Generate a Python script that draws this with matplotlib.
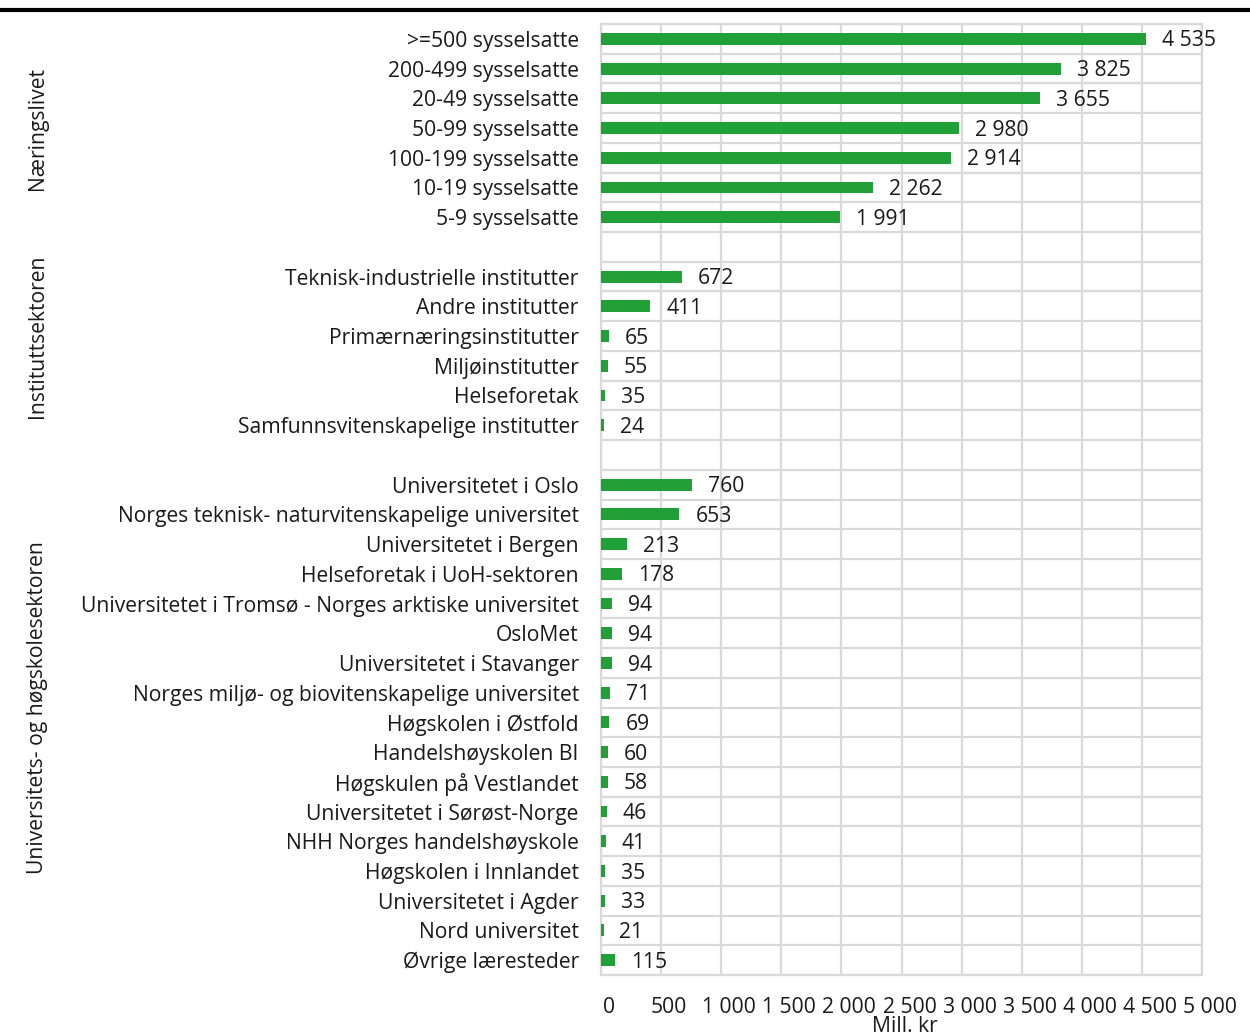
import numpy as np
import matplotlib.pyplot as plt
import matplotlib.transforms as mtransforms
from matplotlib.ticker import FuncFormatter, MultipleLocator

plt.rcParams['font.family'] = ['Open Sans', 'DejaVu Sans']

naering = ['>=500 sysselsatte', '200-499 sysselsatte', '20-49 sysselsatte',
           '50-99 sysselsatte', '100-199 sysselsatte', '10-19 sysselsatte',
           '5-9 sysselsatte']
naering_val = [4535, 3825, 3655, 2980, 2914, 2262, 1991]

institutt = ['Teknisk-industrielle institutter', 'Andre institutter',
             'Primærnæringsinstitutter', 'Miljøinstitutter', 'Helseforetak',
             'Samfunnsvitenskapelige institutter']
institutt_val = [672, 411, 65, 55, 35, 24]

uoh = ['Universitetet i Oslo', 'Norges teknisk- naturvitenskapelige universitet',
       'Universitetet i Bergen', 'Helseforetak i UoH-sektoren',
       'Universitetet i Tromsø - Norges arktiske universitet', 'OsloMet',
       'Universitetet i Stavanger', 'Norges miljø- og biovitenskapelige universitet',
       'Høgskolen i Østfold', 'Handelshøyskolen BI', 'Høgskulen på Vestlandet',
       'Universitetet i Sørøst-Norge', 'NHH Norges handelshøyskole',
       'Høgskolen i Innlandet', 'Universitetet i Agder', 'Nord universitet',
       'Øvrige læresteder']
uoh_val = [760, 653, 213, 178, 94, 94, 94, 71, 69, 60, 58, 46, 41, 35, 33, 21, 115]

groups = ['Næringslivet', 'Instituttsektoren', 'Universitets- og høgskolesektoren']
xticks = np.arange(0, 5001, 500)

def fmt(v):
    return f'{int(v):,}'.replace(',', ' ')

labels = naering + [''] + institutt + [''] + uoh
values = naering_val + [np.nan] + institutt_val + [np.nan] + uoh_val
ypos = np.arange(len(labels))

FS = 15.2
TXT = '#1a1a1a'

fig = plt.figure(figsize=(12.5, 10.36), dpi=100)
ax = fig.add_axes([601/1250, 1-975/1036, 601/1250, 951/1036])

green = '#21a038'
ax.barh(ypos, np.nan_to_num(values), height=0.4, color=green, zorder=3)
for y, v in zip(ypos, values):
    if not np.isnan(v):
        ax.annotate(fmt(v), (v, y), xytext=(11.5, -1.5), textcoords='offset points',
                    ha='left', va='center', fontsize=FS, color=TXT)

ax.set_xlim(0, 5000)
ax.set_ylim(len(labels) - 0.5, -0.5)
ax.set_xticks(xticks)
ax.xaxis.set_major_formatter(FuncFormatter(lambda v, p: fmt(v)))
ax.set_yticks(ypos)
ax.set_yticklabels(labels)
ax.yaxis.set_minor_locator(MultipleLocator(1, offset=0.5))
ax.tick_params(axis='y', which='both', length=0, pad=16, labelsize=FS, colors=TXT)
ax.tick_params(axis='x', length=0, pad=16, labelsize=FS, colors=TXT)
shift = mtransforms.ScaledTranslation(8/100, 0, fig.dpi_scale_trans)
for lab in ax.get_xticklabels():
    lab.set_transform(lab.get_transform() + shift)
ax.grid(axis='x', which='major', color='#d9d9d9', lw=1.6, zorder=0)
ax.grid(axis='y', which='minor', color='#d9d9d9', lw=1.6, zorder=0)
for s in ax.spines.values():
    s.set_color('#d9d9d9')
    s.set_linewidth(1.6)

fig.text(905/1250, 1 - 1027/1036, 'Mill. kr', ha='center', va='center',
         fontsize=FS, color=TXT)

# group labels
for name, yc in zip(groups, [128, 336, 708]):
    fig.text(38/1250, 1 - yc/1036, name, rotation=90, ha='center', va='center',
             fontsize=FS, color=TXT)

# top rule
fig.add_artist(plt.Line2D([0, 1], [1 - 10/1036, 1 - 10/1036], color='black', lw=3))

fig.savefig('out.png', dpi=100)
